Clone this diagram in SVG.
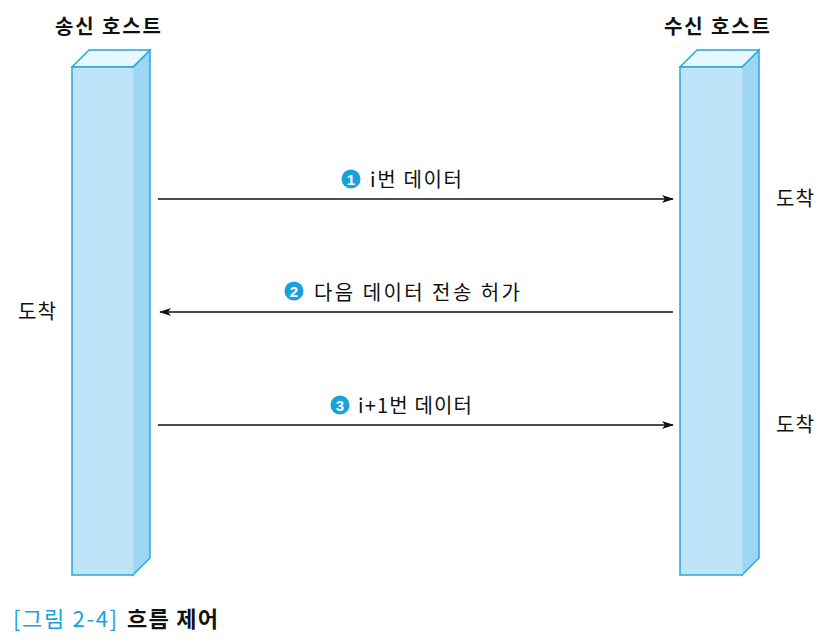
<svg xmlns="http://www.w3.org/2000/svg" width="831" height="644" viewBox="0 0 831 644">
<defs>
<style>
text{font-family:"Noto Sans CJK KR","Noto Sans",sans-serif;font-size:20px;fill:#111}
.front{fill:#bfe4f9;stroke:#2aa7dc;stroke-width:1.5}
.top{fill:#e8f6fd;stroke:#2aa7dc;stroke-width:1.5}
.side{fill:#9fd5f4;stroke:#2aa7dc;stroke-width:1.5}
.edge{stroke:#fff;stroke-width:1.2}
.conn{stroke:#111;stroke-width:1.3;fill:none;marker-end:url(#ah)}
.num{fill:#1aa0dc}
.numt{fill:#fff;font-family:"Liberation Sans",sans-serif;font-weight:bold;font-size:15px}
.cap{font-size:22px}
</style>
<marker id="ah" viewBox="0 0 12 8" refX="11" refY="4" markerWidth="12" markerHeight="8" markerUnits="userSpaceOnUse" orient="auto">
<path d="M0,0 L12,4 L0,8 L3,4 Z" fill="#111"/>
</marker>
</defs>
<g id="sender">
<polygon class="side" points="133,67 150,50 150,558 133,575"/>
<polygon class="top" points="72,67 89,50 150,50 133,67"/>
<rect class="front" x="72" y="67" width="61" height="508"/>
<line class="edge" x1="133" y1="68" x2="133" y2="574"/>
<text x="55" y="34" font-weight="bold" textLength="106" lengthAdjust="spacing">송신 호스트</text>
<text x="18" y="319" textLength="38" lengthAdjust="spacing">도착</text>
</g>
<g id="receiver">
<polygon class="side" points="742,67 759,50 759,558 742,575"/>
<polygon class="top" points="680,67 697,50 759,50 742,67"/>
<rect class="front" x="680" y="67" width="62" height="508"/>
<line class="edge" x1="742" y1="68" x2="742" y2="574"/>
<text x="664" y="34" font-weight="bold" textLength="106" lengthAdjust="spacing">수신 호스트</text>
<text x="776" y="206" textLength="38" lengthAdjust="spacing">도착</text>
<text x="776" y="432" textLength="38" lengthAdjust="spacing">도착</text>
</g>
<g id="connectors">
<line class="conn" x1="158" y1="199" x2="673" y2="199"/>
<line class="conn" x1="673" y1="312" x2="160" y2="312"/>
<line class="conn" x1="158" y1="425" x2="673" y2="425"/>
</g>
<g id="label1">
<circle class="num" cx="351" cy="179" r="9.5"/>
<text class="numt" x="351" y="184.5" text-anchor="middle">1</text>
<text x="370" y="187" textLength="92" lengthAdjust="spacing">i번 데이터</text>
</g>
<g id="label2">
<circle class="num" cx="294" cy="291" r="9.5"/>
<text class="numt" x="294" y="296.5" text-anchor="middle">2</text>
<text x="314" y="300" textLength="206" lengthAdjust="spacing">다음 데이터 전송 허가</text>
</g>
<g id="label3">
<circle class="num" cx="340" cy="405" r="9.5"/>
<text class="numt" x="340" y="410.5" text-anchor="middle">3</text>
<text x="358" y="413" textLength="114" lengthAdjust="spacing">i+1번 데이터</text>
</g>
<g id="caption">
<text class="cap" x="13" y="627" style="fill:#1aa0dc" textLength="104" lengthAdjust="spacing">[그림 2-4]</text>
<text class="cap" x="127" y="627" font-weight="bold" textLength="91" lengthAdjust="spacing">흐름 제어</text>
</g>
</svg>
